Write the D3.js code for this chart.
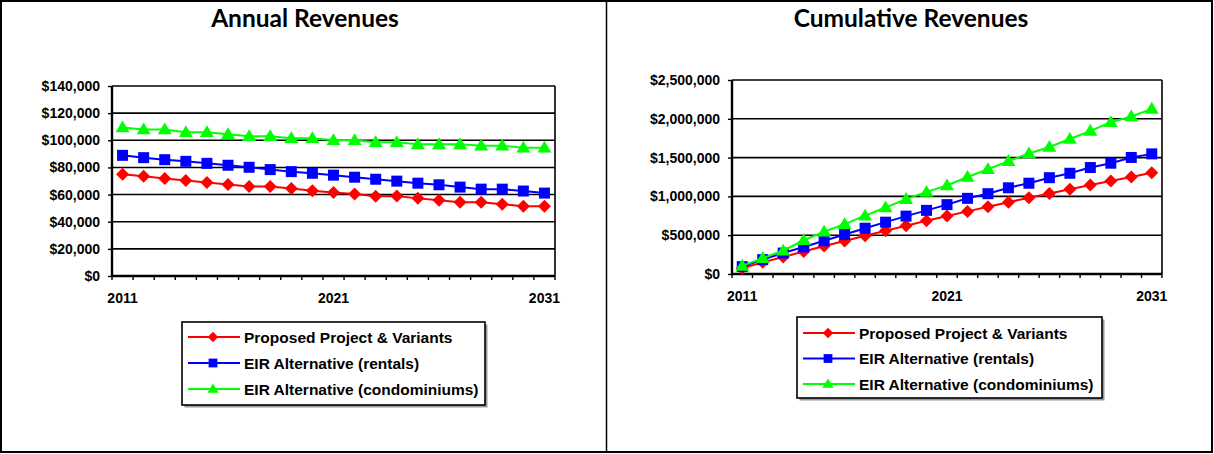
<!DOCTYPE html>
<html>
<head>
<meta charset="utf-8">
<script src="https://cdn.jsdelivr.net/npm/d3@7"></script>
<style>
  html, body { margin: 0; padding: 0; background: #fff; }
  svg { display: block; }
  .tick text { font-family: "Liberation Sans", Arial, sans-serif; font-weight: bold; }
</style>
</head>
<body>
<svg id="chart" width="1214" height="454"></svg>
<script>
// Years on the category axis
const years = d3.range(2011, 2032).map(String);
const yearLabels = ["2011", "2021", "2031"];

// Annual revenues ($)
const annualProposed = [75000, 73500, 71800, 70400, 68900, 67400, 66000, 66000, 64500, 62800, 61600,
                        60400, 58700, 59000, 57200, 55800, 54300, 54300, 52800, 51400, 51400];
const annualRentals  = [88900, 87200, 85700, 84500, 83000, 81600, 80100, 78400, 76900, 75700, 74300,
                        72800, 71300, 69900, 68400, 67200, 65500, 64000, 64000, 62600, 61100];
const annualCondos   = [109500, 108000, 108000, 106000, 106000, 104500, 103000, 103000, 101500, 101500, 100000,
                        100000, 98500, 98500, 97000, 97000, 97000, 96000, 96000, 94500, 94500];

// Cumulative revenues ($)
const cumulProposed = [75000, 150000, 220000, 290000, 360000, 425000, 492000, 558000, 622000, 685000, 747000,
                       807000, 866000, 925000, 983000, 1038000, 1093000, 1146000, 1199000, 1251000, 1304000];
const cumulRentals  = [95000, 185000, 270000, 348000, 428000, 508000, 590000, 668000, 746000, 820000, 894000,
                       975000, 1035000, 1111000, 1170000, 1241000, 1298000, 1372000, 1428000, 1502000, 1548000];
const cumulCondos   = [105000, 205000, 300000, 435000, 545000, 642000, 752000, 857000, 965000, 1058000, 1140000,
                       1250000, 1350000, 1455000, 1552000, 1636000, 1740000, 1845000, 1955000, 2030000, 2128000];

// Y-axis ticks
const annualTicks = d3.range(0, 140001, 20000);
const cumulTicks = d3.range(0, 2500001, 500000);

const seriesNames = ["Proposed Project & Variants", "EIR Alternative (rentals)", "EIR Alternative (condominiums)"];
const seriesColors = ["#ff0000", "#0000ff", "#00ff00"];
const seriesShapes = ["diamond", "square", "triangle"];

const svg = d3.select("#chart");
const FONT = '"Liberation Sans", Arial, sans-serif';
const TITLE_FONT = 'Lato, "Open Sans", sans-serif';

// Outer frame and the divider between the two panels
svg.append("rect").attr("x", 1).attr("y", 1).attr("width", 1211).attr("height", 451)
  .attr("fill", "none").attr("stroke", "#000").attr("stroke-width", 2);
svg.append("line").attr("x1", 606.5).attr("x2", 606.5).attr("y1", 1).attr("y2", 452)
  .attr("stroke", "#000").attr("stroke-width", 1.5);

function markerPath(shape) {
  if (shape === "diamond") return "M0,-6.5L6.5,0L0,6.5L-6.5,0Z";
  if (shape === "square") return "M-5.5,-5.5H5.5V5.5H-5.5Z";
  return "M0,-7L7,4.8L-7,4.8Z";
}

function drawPanel(opt) {
  const g = svg.append("g");
  const x = d3.scaleBand().domain(years).range([opt.left, opt.right]).padding(0);
  const y = d3.scaleLinear().domain([0, opt.max]).range([opt.bottom, opt.top]);
  const cx = d => x(d) + x.bandwidth() / 2;

  // Title
  g.append("text").attr("x", opt.titleX).attr("y", 27)
    .attr("text-anchor", "middle")
    .attr("font-family", TITLE_FONT).attr("font-weight", "bold").attr("font-size", 24.5)
    .text(opt.title);

  // Horizontal gridlines
  g.append("g").selectAll("line").data(opt.ticks.filter(t => t > 0)).join("line")
    .attr("x1", opt.left).attr("x2", opt.right)
    .attr("y1", d => y(d)).attr("y2", d => y(d))
    .attr("stroke", "#000").attr("stroke-width", 1.6);

  // Right border of plot area
  g.append("line").attr("x1", opt.right).attr("x2", opt.right)
    .attr("y1", opt.top).attr("y2", opt.bottom)
    .attr("stroke", "#000").attr("stroke-width", 1.6);

  // Y axis
  const yAxis = g.append("g").attr("transform", `translate(${opt.left},0)`)
    .call(d3.axisLeft(y).tickValues(opt.ticks).tickSize(4).tickPadding(8)
      .tickFormat(d => "$" + d3.format(",")(d)));
  yAxis.select(".domain").attr("stroke-width", 2.4).attr("d", `M0,${opt.top}V${opt.bottom}`);
  yAxis.selectAll(".tick line").attr("stroke-width", 1.4);
  yAxis.selectAll(".tick text").attr("font-size", 14).attr("fill", "#000");

  // X axis: ticks sit between categories, labels every ten years
  const xAxis = g.append("g").attr("transform", `translate(0,${opt.bottom})`)
    .call(d3.axisBottom(x).tickValues(yearLabels).tickSize(0).tickPadding(17));
  xAxis.select(".domain").attr("stroke-width", 2.4).attr("d", `M${opt.left},0H${opt.right}`);
  xAxis.selectAll(".tick text").attr("font-size", 14).attr("fill", "#000");
  const bounds = years.map(d => x(d)).concat([opt.right]);
  xAxis.append("g").selectAll("line").data(bounds).join("line")
    .attr("x1", d => d).attr("x2", d => d).attr("y1", 0).attr("y2", 4)
    .attr("stroke", "#000").attr("stroke-width", 1.4);

  // Series lines and markers
  const line = d3.line().x((d, i) => cx(years[i])).y(d => y(d));
  opt.series.forEach((vals, si) => {
    g.append("path").datum(vals).attr("d", line)
      .attr("fill", "none").attr("stroke", seriesColors[si]).attr("stroke-width", 2);
    g.append("g").selectAll("path").data(vals).join("path")
      .attr("d", markerPath(seriesShapes[si]))
      .attr("transform", (d, i) => `translate(${cx(years[i])},${y(d)})`)
      .attr("fill", seriesColors[si]);
  });

  // Legend
  const L = opt.legend;
  g.append("rect").attr("x", L.x + 2.5).attr("y", L.y + 2.5).attr("width", L.w).attr("height", L.h)
    .attr("fill", "#999");
  g.append("rect").attr("x", L.x).attr("y", L.y).attr("width", L.w).attr("height", L.h)
    .attr("fill", "#fff").attr("stroke", "#000").attr("stroke-width", 1.6);
  seriesNames.forEach((name, si) => {
    const ry = L.y + L.row0 + si * L.step;
    g.append("line").attr("x1", L.x + 6).attr("x2", L.x + 58).attr("y1", ry).attr("y2", ry)
      .attr("stroke", seriesColors[si]).attr("stroke-width", 2);
    g.append("path").attr("d", markerPath(seriesShapes[si]))
      .attr("transform", `translate(${L.x + 31},${ry}) scale(0.8)`)
      .attr("fill", seriesColors[si]);
    g.append("text").attr("x", L.x + 62).attr("y", ry + 5.5)
      .attr("font-family", FONT).attr("font-weight", "bold").attr("font-size", 15.5)
      .text(name);
  });
}

drawPanel({
  title: "Annual Revenues", titleX: 305,
  left: 112, right: 555, top: 86, bottom: 276, max: 140000, ticks: annualTicks,
  series: [annualProposed, annualRentals, annualCondos],
  legend: { x: 182, y: 322, w: 303, h: 83, row0: 15, step: 26 }
});

drawPanel({
  title: "Cumulative Revenues", titleX: 911,
  left: 732, right: 1162, top: 80, bottom: 274, max: 2500000, ticks: cumulTicks,
  series: [cumulProposed, cumulRentals, cumulCondos],
  legend: { x: 797, y: 317, w: 305, h: 81, row0: 16, step: 25.5 }
});
</script>
</body>
</html>
